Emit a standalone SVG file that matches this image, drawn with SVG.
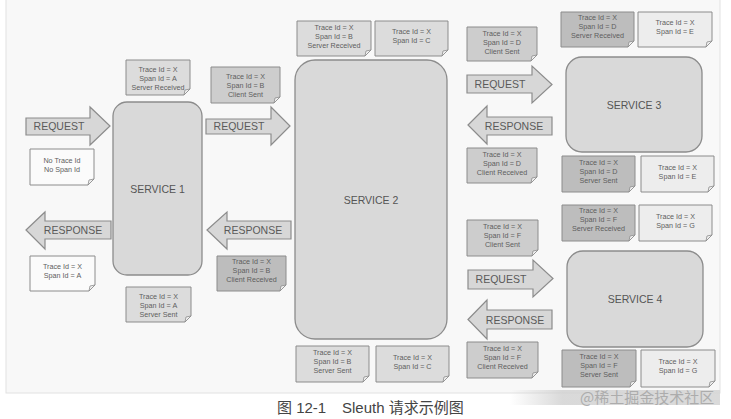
<svg xmlns="http://www.w3.org/2000/svg" width="731" height="419" viewBox="0 0 731 419">
<defs>
<linearGradient id="wm" x1="0" y1="0" x2="1" y2="0">
<stop offset="0" stop-color="#d0d0d0" stop-opacity="0"/>
<stop offset="0.25" stop-color="#d0d0d0" stop-opacity="0.8"/>
<stop offset="1" stop-color="#d6d6d6" stop-opacity="0.9"/>
</linearGradient>
</defs>
<style>
.svc{fill:#d9d9d9;stroke:#8c8c8c;stroke-width:1.3}
.svct{font-family:"Liberation Sans",Arial,sans-serif;font-size:10.5px;fill:#555;text-anchor:middle}
.arr{fill:#d7d7d7;stroke:#8c8c8c;stroke-width:1.2;stroke-linejoin:miter}
.arrt{font-family:"Liberation Sans",Arial,sans-serif;font-size:10.5px;fill:#5a5a5a;text-anchor:middle}
.card{stroke:#8c8c8c;stroke-width:1}
.fold{fill:#f2f2f2;stroke:#8c8c8c;stroke-width:0.8}
.w{fill:#fbfbfb}
.l{fill:#dcdcdc}
.m{fill:#cdcdcd}
.d{fill:#bdbdbd}
.v{fill:#ededed}
.ct{font-family:"Liberation Sans",Arial,sans-serif;font-size:7.2px;fill:#5e5e5e;text-anchor:middle}
.cap{font-family:"Liberation Sans","Noto Sans CJK SC",sans-serif;font-size:15px;fill:#444}
</style>
<rect x="6" y="-1" width="714" height="394" fill="#f8f8f8" stroke="#e2e2e2"/>

<g id="connectors">
<g id="req1"><path class="arr" d="M26,118 H90 V107 L110,126 L90,145 V135 H26 Z"/><text class="arrt" x="59" y="130">REQUEST</text></g>
<g id="req2"><path class="arr" d="M206,119 H271 V107 L290,126 L271,145 V134 H206 Z"/><text class="arrt" x="239" y="130">REQUEST</text></g>
<g id="req3"><path class="arr" d="M467,75 H532 V66 L552,84.5 L532,103 V93 H467 Z"/><text class="arrt" x="500" y="88">REQUEST</text></g>
<g id="req4"><path class="arr" d="M468,270 H533 V260 L553,278.5 L533,297 V289 H468 Z"/><text class="arrt" x="501" y="283">REQUEST</text></g>
<g id="resp1"><path class="arr" d="M26,230 L45,212 V221 H111 V239 H45 V249 Z"/><text class="arrt" x="73" y="234">RESPONSE</text></g>
<g id="resp2"><path class="arr" d="M207,230 L227,212 V221 H291 V239 H227 V249 Z"/><text class="arrt" x="253" y="234">RESPONSE</text></g>
<g id="resp3"><path class="arr" d="M468,125 L487,106 V117 H552 V135 H487 V144 Z"/><text class="arrt" x="514" y="130">RESPONSE</text></g>
<g id="resp4"><path class="arr" d="M468,319.5 L487,300 V310 H552 V329 H487 V339 Z"/><text class="arrt" x="515" y="324">RESPONSE</text></g>
</g>

<g id="service1"><rect class="svc" x="113" y="102" width="89" height="173" rx="14"/><text class="svct" x="157.5" y="193">SERVICE 1</text></g>
<g id="service2"><rect class="svc" x="295" y="60" width="152" height="279" rx="20"/><text class="svct" x="371" y="204">SERVICE 2</text></g>
<g id="service3"><rect class="svc" x="566" y="57" width="136" height="95" rx="16"/><text class="svct" x="634" y="109">SERVICE 3</text></g>
<g id="service4"><rect class="svc" x="567" y="251" width="136" height="96" rx="16"/><text class="svct" x="635" y="303">SERVICE 4</text></g>

<g id="note1"><path class="card l" d="M126,60 H190 V89 L184,95 H126 Z"/><path class="fold" d="M190,89 L184,95 L185,90 Z"/><text class="ct"><tspan x="158" y="72">Trace Id = X</tspan><tspan x="158" y="81">Span Id = A</tspan><tspan x="158" y="90">Server Received</tspan></text></g>
<g id="note2"><path class="card w" d="M30,149 H94 V179 L88,185 H30 Z"/><path class="fold" d="M94,179 L88,185 L89,180 Z"/><text class="ct"><tspan x="62" y="163">No Trace Id</tspan><tspan x="62" y="172">No Span Id</tspan></text></g>
<g id="note3"><path class="card m" d="M211,67 H280 V97 L274,103 H211 Z"/><path class="fold" d="M280,97 L274,103 L275,98 Z"/><text class="ct"><tspan x="245.5" y="79">Trace Id = X</tspan><tspan x="245.5" y="88">Span Id = B</tspan><tspan x="245.5" y="97">Client Sent</tspan></text></g>
<g id="note4"><path class="card w" d="M30,256 H95 V285 L89,291 H30 Z"/><path class="fold" d="M95,285 L89,291 L90,286 Z"/><text class="ct"><tspan x="62.5" y="269">Trace Id = X</tspan><tspan x="62.5" y="278">Span Id = A</tspan></text></g>
<g id="note5"><path class="card l" d="M126,287 H191 V316 L185,322 H126 Z"/><path class="fold" d="M191,316 L185,322 L186,317 Z"/><text class="ct"><tspan x="158.5" y="299">Trace Id = X</tspan><tspan x="158.5" y="308">Span Id = A</tspan><tspan x="158.5" y="317">Server Sent</tspan></text></g>
<g id="note6"><path class="card d" d="M217,256 H286 V285 L280,291 H217 Z"/><path class="fold" d="M286,285 L280,291 L281,286 Z"/><text class="ct"><tspan x="251.5" y="264">Trace Id = X</tspan><tspan x="251.5" y="273">Span Id = B</tspan><tspan x="251.5" y="282">Client Received</tspan></text></g>
<g id="note7"><path class="card l" d="M297,21 H371 V50 L365,56 H297 Z"/><path class="fold" d="M371,50 L365,56 L366,51 Z"/><text class="ct"><tspan x="334" y="30">Trace Id = X</tspan><tspan x="334" y="39">Span Id = B</tspan><tspan x="334" y="48">Server Received</tspan></text></g>
<g id="note8"><path class="card l" d="M375,21 H448 V50 L442,56 H375 Z"/><path class="fold" d="M448,50 L442,56 L443,51 Z"/><text class="ct"><tspan x="411.5" y="34">Trace Id = X</tspan><tspan x="411.5" y="43">Span Id = C</tspan></text></g>
<g id="note9"><path class="card m" d="M467,27 H537 V55 L531,61 H467 Z"/><path class="fold" d="M537,55 L531,61 L532,56 Z"/><text class="ct"><tspan x="502" y="36">Trace Id = X</tspan><tspan x="502" y="45">Span Id = D</tspan><tspan x="502" y="54">Client Sent</tspan></text></g>
<g id="note10"><path class="card m" d="M467,148 H537 V177 L531,183 H467 Z"/><path class="fold" d="M537,177 L531,183 L532,178 Z"/><text class="ct"><tspan x="502" y="157">Trace Id = X</tspan><tspan x="502" y="166">Span Id = D</tspan><tspan x="502" y="175">Client Received</tspan></text></g>
<g id="note11"><path class="card d" d="M561,12 H634 V41 L628,47 H561 Z"/><path class="fold" d="M634,41 L628,47 L629,42 Z"/><text class="ct"><tspan x="597.5" y="20">Trace Id = X</tspan><tspan x="597.5" y="29">Span Id = D</tspan><tspan x="597.5" y="38">Server Received</tspan></text></g>
<g id="note12"><path class="card v" d="M638,12 H712 V41 L706,47 H638 Z"/><path class="fold" d="M712,41 L706,47 L707,42 Z"/><text class="ct"><tspan x="675" y="25">Trace Id = X</tspan><tspan x="675" y="34">Span Id = E</tspan></text></g>
<g id="note13"><path class="card d" d="M562,156 H635 V186 L629,192 H562 Z"/><path class="fold" d="M635,186 L629,192 L630,187 Z"/><text class="ct"><tspan x="598.5" y="165">Trace Id = X</tspan><tspan x="598.5" y="174">Span Id = D</tspan><tspan x="598.5" y="183">Server Sent</tspan></text></g>
<g id="note14"><path class="card v" d="M641,156 H714 V186 L708,192 H641 Z"/><path class="fold" d="M714,186 L708,192 L709,187 Z"/><text class="ct"><tspan x="677.5" y="170">Trace Id = X</tspan><tspan x="677.5" y="179">Span Id = E</tspan></text></g>
<g id="note15"><path class="card d" d="M562,205 H635 V235 L629,241 H562 Z"/><path class="fold" d="M635,235 L629,241 L630,236 Z"/><text class="ct"><tspan x="598.5" y="213">Trace Id = X</tspan><tspan x="598.5" y="222">Span Id = F</tspan><tspan x="598.5" y="231">Server Received</tspan></text></g>
<g id="note16"><path class="card v" d="M639,205 H712 V235 L706,241 H639 Z"/><path class="fold" d="M712,235 L706,241 L707,236 Z"/><text class="ct"><tspan x="675.5" y="219">Trace Id = X</tspan><tspan x="675.5" y="228">Span Id = G</tspan></text></g>
<g id="note17"><path class="card m" d="M467,220 H538 V250 L532,256 H467 Z"/><path class="fold" d="M538,250 L532,256 L533,251 Z"/><text class="ct"><tspan x="502.5" y="229">Trace Id = X</tspan><tspan x="502.5" y="238">Span Id = F</tspan><tspan x="502.5" y="247">Client Sent</tspan></text></g>
<g id="note18"><path class="card m" d="M467,342 H538 V372 L532,378 H467 Z"/><path class="fold" d="M538,372 L532,378 L533,373 Z"/><text class="ct"><tspan x="502.5" y="351">Trace Id = X</tspan><tspan x="502.5" y="360">Span Id = F</tspan><tspan x="502.5" y="369">Client Received</tspan></text></g>
<g id="note19"><path class="card d" d="M562,350 H636 V381 L630,387 H562 Z"/><path class="fold" d="M636,381 L630,387 L631,382 Z"/><text class="ct"><tspan x="599" y="359">Trace Id = X</tspan><tspan x="599" y="368">Span Id = F</tspan><tspan x="599" y="377">Server Sent</tspan></text></g>
<g id="note20"><path class="card v" d="M641,350 H715 V381 L709,387 H641 Z"/><path class="fold" d="M715,381 L709,387 L710,382 Z"/><text class="ct"><tspan x="678" y="364">Trace Id = X</tspan><tspan x="678" y="373">Span Id = G</tspan></text></g>
<g id="note21"><path class="card l" d="M296,346 H369 V376 L363,382 H296 Z"/><path class="fold" d="M369,376 L363,382 L364,377 Z"/><text class="ct"><tspan x="332.5" y="355">Trace Id = X</tspan><tspan x="332.5" y="364">Span Id = B</tspan><tspan x="332.5" y="373">Server Sent</tspan></text></g>
<g id="note22"><path class="card l" d="M376,346 H449 V376 L443,382 H376 Z"/><path class="fold" d="M449,376 L443,382 L444,377 Z"/><text class="ct"><tspan x="412.5" y="360">Trace Id = X</tspan><tspan x="412.5" y="369">Span Id = C</tspan></text></g>

<text class="cap"><tspan x="277" y="413">图 12-1</tspan><tspan x="342" y="413">Sleuth 请求示例图</tspan></text>

<g id="watermark">
<rect x="510" y="390" width="210" height="15" fill="url(#wm)"/>
<text x="580" y="403" font-family="'Noto Sans CJK SC',sans-serif" font-size="15" fill="#a8a8a8" opacity="0.9">@稀土掘金技术社区</text>
</g>
</svg>
